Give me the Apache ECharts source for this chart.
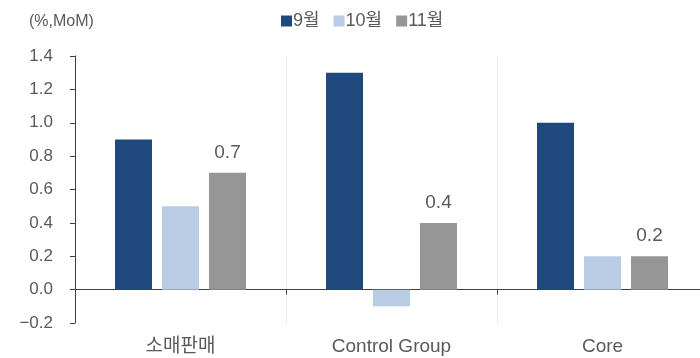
<!DOCTYPE html>
<html>
<head>
<meta charset="utf-8">
<script src="https://cdn.jsdelivr.net/npm/echarts@6/dist/echarts.min.js"></script>
<style>
  html, body { margin: 0; padding: 0; background: #fff; }
  #chart { width: 700px; height: 358px; }
</style>
</head>
<body>
<div id="chart"></div>
<script>
// Month-over-month retail sales components (%)
const categories = ['소매판매', 'Control Group', 'Core'];
const seriesNames = ['9월', '10월', '11월'];
const sep = [0.9, 1.3, 1.0];
const oct = [0.5, -0.1, 0.2];
const nov = [0.7, 0.4, 0.2];
const yTicks = { min: -0.2, max: 1.4, step: 0.2 };

const colors = ['#1f497d', '#b8cce4', '#969696'];
const font = '"Liberation Sans", "Noto Sans CJK KR", sans-serif';
const textColor = '#595959';

const chart = echarts.init(document.getElementById('chart'), null, { renderer: 'canvas' });

const values = [sep, oct, nov];
const series = seriesNames.map((name, i) => ({
  name,
  type: 'bar',
  data: values[i],
  barWidth: 37,
  barGap: '27%',
  itemStyle: { color: colors[i] },
  label: i === 2 ? {
    show: true,
    position: 'top',
    distance: 11,
    fontFamily: font,
    fontSize: 19,
    color: textColor,
    formatter: p => p.value.toFixed(1)
  } : { show: false }
}));

chart.setOption({
  animation: false,
  backgroundColor: '#fff',
  title: {
    text: '(%,MoM)',
    left: 24,
    top: 9,
    textStyle: { fontFamily: font, fontSize: 16, fontWeight: 'normal', color: textColor }
  },
  legend: {
    data: seriesNames,
    left: 276,
    top: 7,
    icon: 'rect',
    itemWidth: 11,
    itemHeight: 11,
    itemGap: 14,
    textStyle: { fontFamily: font, fontSize: 18, color: textColor, padding: [0, 0, 0, -4] }
  },
  grid: { left: 75, right: -8, top: 56, bottom: 35, outerBoundsMode: 'none' },
  xAxis: [
    {
      // category names along the bottom edge, dotted separators between groups
      type: 'category',
      data: categories,
      position: 'bottom',
      axisLine: { onZero: false, show: false },
      axisTick: { show: false },
      axisLabel: { margin: 14, fontFamily: font, fontSize: 19, color: textColor },
      splitLine: { show: true, lineStyle: { color: '#d9d9d9', type: 'dotted', width: 1 } }
    },
    {
      // baseline at zero with group boundary ticks
      type: 'category',
      data: categories,
      position: 'bottom',
      axisLine: { onZero: true, onZeroAxisIndex: 0, lineStyle: { color: '#404040', width: 1 } },
      axisTick: { show: true, length: 5, lineStyle: { color: '#404040' } },
      axisLabel: { show: false },
      splitLine: { show: false }
    }
  ],
  yAxis: {
    type: 'value',
    min: yTicks.min,
    max: yTicks.max,
    interval: yTicks.step,
    axisLine: { show: true, lineStyle: { color: '#404040', width: 1 } },
    axisTick: { show: true, length: 5, lineStyle: { color: '#404040' } },
    splitLine: { show: false },
    axisLabel: {
      margin: 22,
      fontFamily: font,
      fontSize: 17,
      color: textColor,
      formatter: v => {
        const s = (Math.round(v * 10) / 10).toFixed(1);
        return s.replace('-', '\u2212');
      }
    }
  },
  series
});
</script>
</body>
</html>
